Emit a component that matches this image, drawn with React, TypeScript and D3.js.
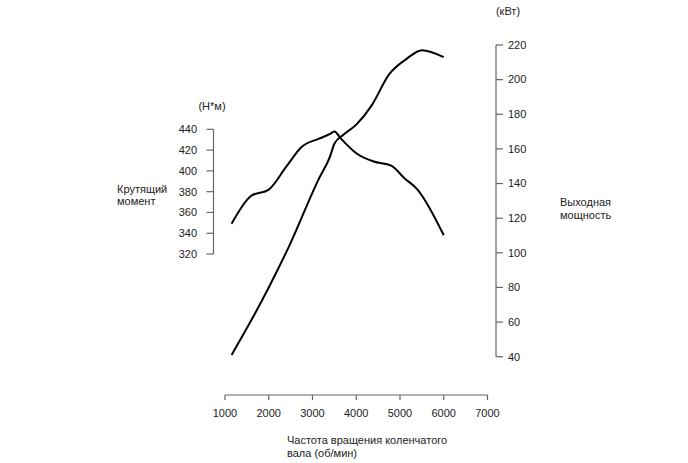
import { scaleLinear, line as d3_line, curveMonotoneX } from "d3";

// Крутящий момент (Н*м) по оборотам
const torqueRpm = [1150, 1600, 2000, 2400, 2750, 3150, 3400, 3500, 3650, 4000, 4400, 4800, 5100, 5400, 6000];
const torqueVals = [349, 376, 382, 404, 423, 431, 435.5, 438, 431, 417, 409, 405, 393, 382, 338];

// Выходная мощность (кВт) по оборотам
const powerRpm = [1150, 1600, 2000, 2450, 3150, 3400, 3500, 3700, 4000, 4350, 4750, 5150, 5500, 6000];
const powerVals = [41, 61, 80, 103, 143, 155.5, 163, 168, 174, 185, 203, 212, 217, 213];

const xTicks = [1000, 2000, 3000, 4000, 5000, 6000, 7000];
const torqueTicks = [320, 340, 360, 380, 400, 420, 440];
const powerTicks = [40, 60, 80, 100, 120, 140, 160, 180, 200, 220];

const FONT = "Arial, 'Liberation Sans', Helvetica, sans-serif";
const AXIS = "#666";
const TEXT = "#222";

export default function App() {
  const x = scaleLinear().domain([1000, 7000]).range([225, 487.5]);
  const yT = scaleLinear().domain([320, 440]).range([254, 129.3]);
  const yP = scaleLinear().domain([40, 220]).range([356.7, 45]);

  const torquePath = d3_line<number>()
    .x((_, i) => x(torqueRpm[i]))
    .y((d) => yT(d))
    .curve(curveMonotoneX)(torqueVals);

  const powerPath = d3_line<number>()
    .x((_, i) => x(powerRpm[i]))
    .y((d) => yP(d))
    .curve(curveMonotoneX)(powerVals);

  const axisY = 395;
  const leftX = 213.5;
  const rightX = 496;

  return (
    <div style={{ position: "absolute", left: 0, top: 0 }}>
      <svg width={688} height={463} style={{ display: "block", background: "#fff" }} fontFamily={FONT} fontSize={11}>
        {/* Ось X */}
        <line x1={x(1000)} x2={x(7000)} y1={axisY} y2={axisY} stroke={AXIS} strokeWidth={1.2} />
        {xTicks.map((t) => (
          <g key={t}>
            <line x1={x(t)} x2={x(t)} y1={axisY} y2={axisY + 5} stroke={AXIS} strokeWidth={1.2} />
            <text x={x(t)} y={axisY + 22} textAnchor="middle" fill={TEXT}>{t}</text>
          </g>
        ))}
        <text x={287} y={444} fill={TEXT}>Частота вращения коленчатого</text>
        <text x={287} y={457} fill={TEXT}>вала (об/мин)</text>

        {/* Левая ось: крутящий момент */}
        <line x1={leftX} x2={leftX} y1={yT(440)} y2={yT(320)} stroke={AXIS} strokeWidth={1.2} />
        {torqueTicks.map((t) => (
          <g key={t}>
            <line x1={leftX - 7} x2={leftX} y1={yT(t)} y2={yT(t)} stroke={AXIS} strokeWidth={1.2} />
            <text x={197} y={yT(t)} dy="0.35em" textAnchor="end" fill={TEXT}>{t}</text>
          </g>
        ))}
        <text x={212} y={106} dy="0.35em" textAnchor="middle" fill={TEXT}>(Н*м)</text>
        <text x={117} y={189} dy="0.35em" fill={TEXT}>Крутящий</text>
        <text x={117} y={201} dy="0.35em" fill={TEXT}>момент</text>

        {/* Правая ось: мощность */}
        <line x1={rightX} x2={rightX} y1={yP(220)} y2={yP(40)} stroke={AXIS} strokeWidth={1.2} />
        {powerTicks.map((t) => (
          <g key={t}>
            <line x1={rightX} x2={rightX + 7} y1={yP(t)} y2={yP(t)} stroke={AXIS} strokeWidth={1.2} />
            <text x={508} y={yP(t)} dy="0.35em" fill={TEXT}>{t}</text>
          </g>
        ))}
        <text x={508} y={11} dy="0.35em" textAnchor="middle" fill={TEXT}>(кВт)</text>
        <text x={560} y={202} dy="0.35em" fill={TEXT}>Выходная</text>
        <text x={560} y={215} dy="0.35em" fill={TEXT}>мощность</text>

        {/* Кривые */}
        <path d={torquePath ?? ""} fill="none" stroke="#000" strokeWidth={2} strokeLinejoin="round" />
        <path d={powerPath ?? ""} fill="none" stroke="#000" strokeWidth={2} strokeLinejoin="round" />
      </svg>
    </div>
  );
}
